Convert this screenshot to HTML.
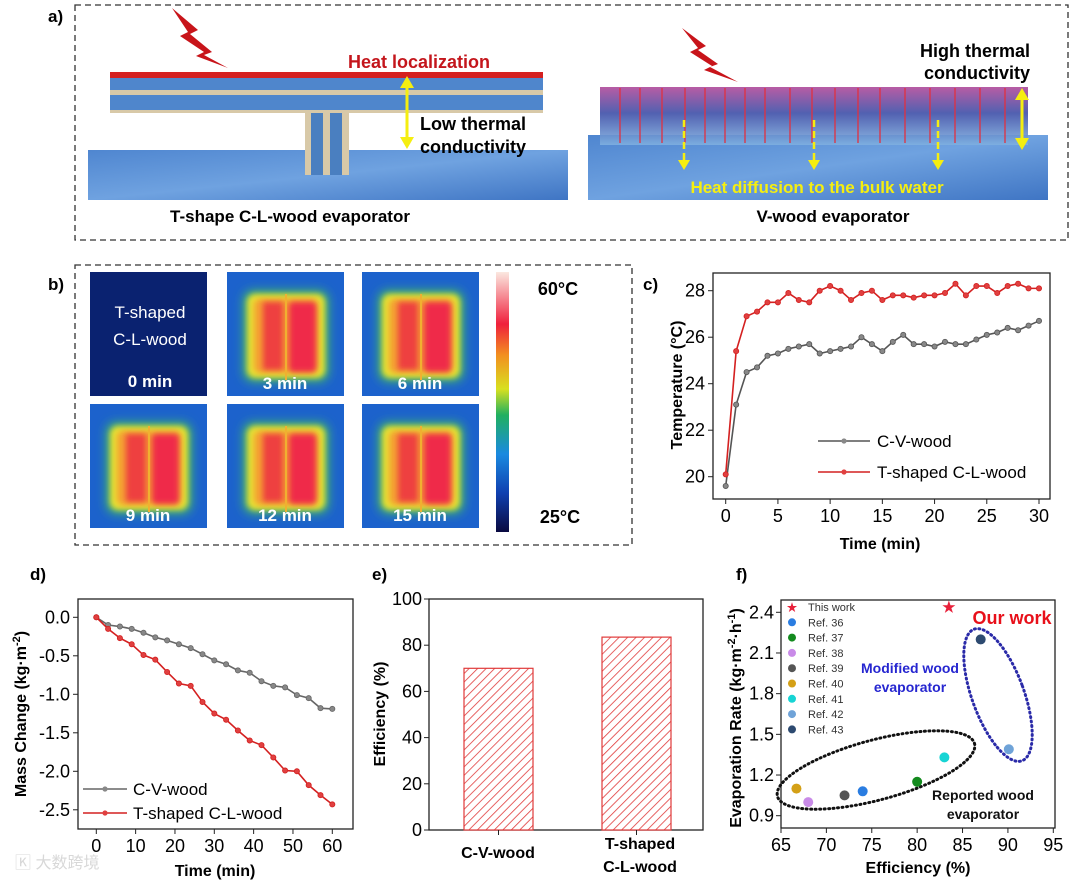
<!DOCTYPE html>
<html><head><meta charset="utf-8"><style>
body{margin:0;background:#fff;}
svg{display:block;font-family:"Liberation Sans","Noto Sans CJK SC",sans-serif;}
</style></head><body>
<svg id="fig" width="1080" height="883" viewBox="0 0 1080 883" xmlns="http://www.w3.org/2000/svg">
<defs>
<linearGradient id="water" x1="0" y1="0" x2="1" y2="1"><stop offset="0" stop-color="#4f86d0"/><stop offset="0.5" stop-color="#6fa2e0"/><stop offset="1" stop-color="#3f75c4"/></linearGradient>
<linearGradient id="vwood" x1="0" y1="0" x2="0" y2="1"><stop offset="0" stop-color="#b04a9a"/><stop offset="0.45" stop-color="#3e4fa8"/><stop offset="1" stop-color="#7fb0e0"/></linearGradient>
<linearGradient id="cbar" x1="0" y1="1" x2="0" y2="0"><stop offset="0" stop-color="#0a0a40"/><stop offset="0.15" stop-color="#1040b0"/><stop offset="0.3" stop-color="#1a8ae0"/><stop offset="0.45" stop-color="#20b060"/><stop offset="0.55" stop-color="#d8e020"/><stop offset="0.68" stop-color="#f29020"/><stop offset="0.8" stop-color="#f0203c"/><stop offset="1" stop-color="#fbe8e0"/></linearGradient>
<filter id="blur5" x="-30%" y="-30%" width="160%" height="160%"><feGaussianBlur stdDeviation="5"/></filter>
<filter id="blur3" x="-30%" y="-30%" width="160%" height="160%"><feGaussianBlur stdDeviation="3"/></filter>
<pattern id="hatch" width="6" height="6" patternUnits="userSpaceOnUse" patternTransform="rotate(45)"><rect width="6" height="6" fill="#fff"/><line x1="0" y1="0" x2="0" y2="6" stroke="#e03a3a" stroke-width="1.6"/></pattern>
</defs>

<!-- Panel a -->
<g>
<text x="48" y="22" font-size="17" font-weight="bold">a)</text>
<rect x="75" y="5" width="993" height="235" fill="none" stroke="#333" stroke-width="1.3" stroke-dasharray="6,4"/>
<rect x="88" y="150" width="480" height="50" fill="url(#water)"/>
<rect x="305" y="110" width="44" height="65" fill="#d8c9a8"/>
<rect x="311" y="110" width="12" height="65" fill="#4a7fc0"/><rect x="330" y="110" width="12" height="65" fill="#4a7fc0"/>
<rect x="110" y="75" width="433" height="38" fill="#d8c9a8"/>
<rect x="110" y="78" width="433" height="12" fill="#4f86cc"/><rect x="110" y="95" width="433" height="15" fill="#4f86cc"/>
<rect x="110" y="72" width="433" height="6" fill="#d42020"/>
<text x="348" y="68" font-size="18" font-weight="bold" fill="#c4161c">Heat localization</text>
<line x1="407" y1="82" x2="407" y2="143" stroke="#f5ee10" stroke-width="3"/>
<polygon points="400,88 407,76 414,88" fill="#f5ee10"/><polygon points="400,137 407,149 414,137" fill="#f5ee10"/>
<text x="420" y="130" font-size="18" font-weight="bold">Low thermal</text>
<text x="420" y="153" font-size="18" font-weight="bold">conductivity</text>
<polygon points="172,8 198,30 190,34 212,52 204,55 228,68 196,56 204,52 180,36 188,32" fill="#c8141a"/>
<text x="290" y="222" font-size="17" font-weight="bold" text-anchor="middle">T-shape C-L-wood evaporator</text>

<rect x="588" y="135" width="460" height="65" fill="url(#water)"/>
<rect x="600" y="87" width="428" height="58" fill="url(#vwood)" opacity="0.9"/>
<g stroke="#e03040" stroke-width="1.3">
<line x1="620" y1="88" x2="620" y2="143"/><line x1="640" y1="88" x2="640" y2="143"/><line x1="662" y1="88" x2="662" y2="143"/><line x1="685" y1="88" x2="685" y2="143"/><line x1="705" y1="88" x2="705" y2="143"/><line x1="725" y1="88" x2="725" y2="143"/><line x1="745" y1="88" x2="745" y2="143"/><line x1="765" y1="88" x2="765" y2="143"/><line x1="790" y1="88" x2="790" y2="143"/><line x1="812" y1="88" x2="812" y2="143"/><line x1="835" y1="88" x2="835" y2="143"/><line x1="858" y1="88" x2="858" y2="143"/><line x1="880" y1="88" x2="880" y2="143"/><line x1="905" y1="88" x2="905" y2="143"/><line x1="930" y1="88" x2="930" y2="143"/><line x1="955" y1="88" x2="955" y2="143"/><line x1="980" y1="88" x2="980" y2="143"/><line x1="1005" y1="88" x2="1005" y2="143"/>
</g>
<g stroke="#f5ee10" stroke-width="2.5" stroke-dasharray="7,4">
<line x1="684" y1="120" x2="684" y2="162"/><line x1="814" y1="120" x2="814" y2="162"/><line x1="938" y1="120" x2="938" y2="162"/></g>
<polygon points="678,160 684,170 690,160" fill="#f5ee10"/><polygon points="808,160 814,170 820,160" fill="#f5ee10"/><polygon points="932,160 938,170 944,160" fill="#f5ee10"/>
<text x="817" y="193" font-size="17" font-weight="bold" fill="#f5ee10" text-anchor="middle">Heat diffusion to the bulk water</text>
<line x1="1022" y1="96" x2="1022" y2="142" stroke="#f5ee10" stroke-width="3"/>
<polygon points="1015,100 1022,88 1029,100" fill="#f5ee10"/><polygon points="1015,138 1022,150 1029,138" fill="#f5ee10"/>
<text x="1030" y="57" font-size="18" font-weight="bold" text-anchor="end">High thermal</text>
<text x="1030" y="79" font-size="18" font-weight="bold" text-anchor="end">conductivity</text>
<polygon points="682,28 706,46 698,50 718,64 710,67 738,82 704,70 712,66 690,52 698,48" fill="#c8141a"/>
<text x="833" y="222" font-size="17" font-weight="bold" text-anchor="middle">V-wood evaporator</text>
</g>

<!-- Panel b -->
<g>
<text x="48" y="290" font-size="17" font-weight="bold">b)</text>
<rect x="75" y="265" width="557" height="280" fill="none" stroke="#333" stroke-width="1.3" stroke-dasharray="6,4"/>
<rect x="90" y="272" width="117" height="124" fill="#0a2270"/>
<text x="150" y="318" font-size="17" fill="#fff" text-anchor="middle">T-shaped</text>
<text x="150" y="345" font-size="17" fill="#fff" text-anchor="middle">C-L-wood</text>
<text x="150" y="387" font-size="17" font-weight="bold" fill="#fff" text-anchor="middle">0 min</text>
<g id="tiles"></g>
<rect x="496" y="272" width="13" height="260" fill="url(#cbar)"/>
<text x="558" y="295" font-size="18" font-weight="bold" text-anchor="middle">60°C</text>
<text x="560" y="523" font-size="18" font-weight="bold" text-anchor="middle">25°C</text>
</g>

<!-- Panel labels -->
<text x="643" y="290" font-size="17" font-weight="bold">c)</text>
<text x="30" y="580" font-size="17" font-weight="bold">d)</text>
<text x="372" y="580" font-size="17" font-weight="bold">e)</text>
<text x="736" y="580" font-size="17" font-weight="bold">f)</text>

<g id="pc"></g>
<g id="pd"></g>
<g id="pe"></g>
<g id="pf"></g>

<text x="15" y="868" font-size="16" fill="#d8d8d8">🄺 大数跨境</text>
</svg>
<script>
const NS='http://www.w3.org/2000/svg';
// ---- data ----
const timeC=[0,1,2,3,4,5,6,7,8,9,10,11,12,13,14,15,16,17,18,19,20,21,22,23,24,25,26,27,28,29,30];
const tempCV=[19.6,23.1,24.5,24.7,25.2,25.3,25.5,25.6,25.7,25.3,25.4,25.5,25.6,26.0,25.7,25.4,25.8,26.1,25.7,25.7,25.6,25.8,25.7,25.7,25.9,26.1,26.2,26.4,26.3,26.5,26.7];
const tempTL=[20.1,25.4,26.9,27.1,27.5,27.5,27.9,27.6,27.5,28.0,28.2,28.0,27.6,27.9,28.0,27.6,27.8,27.8,27.7,27.8,27.8,27.9,28.3,27.8,28.2,28.2,27.9,28.2,28.3,28.1,28.1];
const cXTicks=[0,5,10,15,20,25,30];
const cYTicks=[20,22,24,26,28];
const timeD=[0,3,6,9,12,15,18,21,24,27,30,33,36,39,42,45,48,51,54,57,60];
const massCV=[0,-0.10,-0.12,-0.15,-0.20,-0.26,-0.30,-0.35,-0.40,-0.48,-0.56,-0.61,-0.69,-0.72,-0.83,-0.89,-0.91,-1.01,-1.05,-1.18,-1.19];
const massTL=[0,-0.15,-0.27,-0.35,-0.49,-0.55,-0.71,-0.86,-0.89,-1.10,-1.25,-1.33,-1.47,-1.60,-1.66,-1.82,-1.99,-2.00,-2.18,-2.31,-2.43];
const dXTicks=[0,10,20,30,40,50,60];
const dYTicks=[0,-0.5,-1.0,-1.5,-2.0,-2.5];
const effCats=['C-V-wood','T-shaped C-L-wood'];
const effVals=[70,83.5];
const eYTicks=[0,20,40,60,80,100];
const refNames=['This work','Ref. 36','Ref. 37','Ref. 38','Ref. 39','Ref. 40','Ref. 41','Ref. 42','Ref. 43'];
const refEff=[83.5,74,80,68,72,66.7,83,90.1,87];
const refRate=[2.44,1.08,1.15,1.00,1.05,1.10,1.33,1.39,2.20];
const refColors=['#e8203a','#2a7de1','#138a1e','#c98be8','#555555','#d4a017','#17d4d4','#6fa3d8','#2d4a70'];
const fXTicks=[65,70,75,80,85,90,95];
const fYTicks=[0.9,1.2,1.5,1.8,2.1,2.4];
const tileTimes=['3 min','6 min','9 min','12 min','15 min'];

function el(tag,attrs,parent){const e=document.createElementNS(NS,tag);for(const k in attrs)e.setAttribute(k,attrs[k]);parent.appendChild(e);return e;}
function txt(parent,x,y,s,size,anchor,extra){const t=el('text',Object.assign({x:x,y:y,'font-size':size,'text-anchor':anchor||'middle'},extra||{}),parent);t.textContent=s;return t;}

// tiles
(function(){const g=document.getElementById('tiles');const pos=[[227,272],[362,272],[90,404],[227,404],[362,404]];
tileTimes.forEach((s,i)=>{const [x,y]=pos[i];
const r=el('rect',{x:x,y:y,width:117,height:124,fill:'#1c62cc'},g);


el('rect',{x:x+16,y:y+18,width:86,height:92,rx:10,fill:'#40b070',filter:'url(#blur5)'},g);
el('rect',{x:x+20,y:y+22,width:78,height:84,rx:8,fill:'#e8e030',filter:'url(#blur3)'},g);
el('rect',{x:x+27,y:y+27,width:64,height:74,rx:6,fill:'#f4a030',filter:'url(#blur3)'},g);
el('rect',{x:x+36,y:y+30,width:20,height:68,fill:'#ee4040',filter:'url(#blur3)'},g);
el('rect',{x:x+62,y:y+30,width:27,height:70,rx:4,fill:'#ef2a4a',filter:'url(#blur3)'},g);
el('line',{x1:x+59,y1:y+22,x2:x+59,y2:y+108,stroke:'#f0b030','stroke-width':2},g);
txt(g,x+58,y+117,s,17,'middle',{'font-weight':'bold',fill:'#fff'});});})();

function frame(g,L,R,T,B){el('rect',{x:L,y:T,width:R-L,height:B-T,fill:'none',stroke:'#222','stroke-width':1.3},g);}

// Panel c
(function(){const g=document.getElementById('pc');const L=713,R=1050,T=273,B=499;
const x=t=>725.7+t*(1039-725.7)/30, y=v=>476.7-(v-20)*23.25;
frame(g,L,R,T,B);
cXTicks.forEach(t=>{el('line',{x1:x(t),y1:B,x2:x(t),y2:B+5,stroke:'#222'},g);txt(g,x(t),B+23,t,18);});
cYTicks.forEach(v=>{el('line',{x1:L,y1:y(v),x2:L-5,y2:y(v),stroke:'#222'},g);txt(g,L-8,y(v)+6,v,18,'end');});
txt(g,880,549,'Time (min)',16,'middle',{'font-weight':'bold'});
txt(g,0,0,'Temperature (°C)',16,'middle',{'font-weight':'bold',transform:'translate(682,385) rotate(-90)'});
[[tempCV,'#555','#888','cv'],[tempTL,'#d42020','#e04040','tl']].forEach(([d,c,f,n])=>{
const pl=el('polyline',{points:timeC.map((t,i)=>x(t)+','+y(d[i])).join(' '),fill:'none',stroke:c,'stroke-width':1.6},g);


timeC.forEach((t,i)=>{const p=el('circle',{cx:x(t),cy:y(d[i]),r:2.6,fill:f,stroke:c,'stroke-width':0.8},g);

});});
el('line',{x1:818,y1:441,x2:870,y2:441,stroke:'#555','stroke-width':1.6},g);el('circle',{cx:844,cy:441,r:2.6,fill:'#888'},g);
txt(g,877,447,'C-V-wood',17,'start');
el('line',{x1:818,y1:472,x2:870,y2:472,stroke:'#d42020','stroke-width':1.6},g);el('circle',{cx:844,cy:472,r:2.6,fill:'#e04040'},g);
txt(g,877,478,'T-shaped C-L-wood',17,'start');})();

// Panel d
(function(){const g=document.getElementById('pd');const L=78,R=353,T=599,B=829;
const x=t=>96.3+t*(332.3-96.3)/60, y=v=>617.3-v*77;
frame(g,L,R,T,B);
dXTicks.forEach(t=>{el('line',{x1:x(t),y1:B,x2:x(t),y2:B+5,stroke:'#222'},g);txt(g,x(t),B+23,t,18);});
dYTicks.forEach(v=>{el('line',{x1:L,y1:y(v),x2:L-5,y2:y(v),stroke:'#222'},g);txt(g,L-8,y(v)+6,v.toFixed(1),18,'end');});
txt(g,215,876,'Time (min)',16,'middle',{'font-weight':'bold'});
const yl=el('text',{'font-size':16,'font-weight':'bold','text-anchor':'middle',transform:'translate(26,714) rotate(-90)'},g);
yl.innerHTML='Mass Change (kg·m<tspan baseline-shift="super" font-size="11">-2</tspan>)';
[[massCV,'#666','#888','cv'],[massTL,'#d42020','#e04040','tl']].forEach(([d,c,f,n])=>{
const pl=el('polyline',{points:timeD.map((t,i)=>x(t)+','+y(d[i])).join(' '),fill:'none',stroke:c,'stroke-width':1.6},g);


timeD.forEach((t,i)=>{const p=el('circle',{cx:x(t),cy:y(d[i]),r:2.6,fill:f,stroke:c,'stroke-width':0.8},g);

});});
el('line',{x1:83,y1:789,x2:127,y2:789,stroke:'#666','stroke-width':1.6},g);el('circle',{cx:105,cy:789,r:2.6,fill:'#888'},g);
txt(g,133,795,'C-V-wood',17,'start');
el('line',{x1:83,y1:813,x2:127,y2:813,stroke:'#d42020','stroke-width':1.6},g);el('circle',{cx:105,cy:813,r:2.6,fill:'#e04040'},g);
txt(g,133,819,'T-shaped C-L-wood',17,'start');})();

// Panel e
(function(){const g=document.getElementById('pe');const L=429,R=703,T=599,B=830;
const y=v=>830-v*2.31; const cx=[498.5,636.5];
frame(g,L,R,T,B);
eYTicks.forEach(v=>{el('line',{x1:L,y1:y(v),x2:L-5,y2:y(v),stroke:'#222'},g);txt(g,L-7,y(v)+6,v,18,'end');});
effCats.forEach((c,i)=>{const b=el('rect',{x:cx[i]-34.5,y:y(effVals[i]),width:69,height:B-y(effVals[i]),fill:'url(#hatch)',stroke:'#e03a3a','stroke-width':1.2},g);


el('line',{x1:cx[i],y1:B,x2:cx[i],y2:B+5,stroke:'#222'},g);});
txt(g,498,858,'C-V-wood',16,'middle',{'font-weight':'bold'});
txt(g,640,849,'T-shaped',16,'middle',{'font-weight':'bold'});
txt(g,640,872,'C-L-wood',16,'middle',{'font-weight':'bold'});
txt(g,0,0,'Efficiency (%)',16,'middle',{'font-weight':'bold',transform:'translate(385,714) rotate(-90)'});})();

// Panel f
(function(){const g=document.getElementById('pf');const L=781,R=1055,T=600,B=828;
const x=e=>781+(e-65)*(1053.3-781)/30, y=r=>815.7-(r-0.9)*(815.7-612.3)/1.5;
frame(g,L,R,T,B);
fXTicks.forEach(t=>{el('line',{x1:x(t),y1:B,x2:x(t),y2:B+5,stroke:'#222'},g);txt(g,x(t),B+23,t,18);});
fYTicks.forEach(v=>{el('line',{x1:L,y1:y(v),x2:L-5,y2:y(v),stroke:'#222'},g);txt(g,L-7,y(v)+6,v.toFixed(1),18,'end');});
txt(g,918,873,'Efficiency (%)',16,'middle',{'font-weight':'bold'});
const yl=el('text',{'font-size':16,'font-weight':'bold','text-anchor':'middle',transform:'translate(741,718) rotate(-90)'},g);
yl.innerHTML='Evaporation Rate (kg·m<tspan baseline-shift="super" font-size="11">-2</tspan>·h<tspan baseline-shift="super" font-size="11">-1</tspan>)';
el('ellipse',{cx:998,cy:695,rx:26,ry:70,transform:'rotate(-20 998 695)',fill:'none',stroke:'#2a2aa8','stroke-width':3,'stroke-dasharray':'1,3.5','stroke-linecap':'round'},g);
el('ellipse',{cx:876,cy:770,rx:102,ry:30,transform:'rotate(-15 876 770)',fill:'none',stroke:'#111','stroke-width':3,'stroke-dasharray':'1,3.5','stroke-linecap':'round'},g);
refNames.forEach((n,i)=>{
if(i===0){const s=txt(g,x(refEff[i]),y(refRate[i])+5,'★',14,'middle',{fill:refColors[i]});

}
else{const c=el('circle',{cx:x(refEff[i]),cy:y(refRate[i]),r:5,fill:refColors[i]},g);

}
const ly=607+i*15.3;
if(i===0)txt(g,792,ly+4,'★',11,'middle',{fill:refColors[0]});else el('circle',{cx:792,cy:ly,r:4,fill:refColors[i]},g);
txt(g,808,ly+4,n,11,'start',{fill:'#333'});});
txt(g,1012,624,'Our work',18,'middle',{'font-weight':'bold',fill:'#e8101a'});
txt(g,910,673,'Modified wood',14,'middle',{'font-weight':'bold',fill:'#2626d0'});
txt(g,910,692,'evaporator',14,'middle',{'font-weight':'bold',fill:'#2626d0'});
txt(g,983,800,'Reported wood',14,'middle',{'font-weight':'bold',fill:'#111'});
txt(g,983,819,'evaporator',14,'middle',{'font-weight':'bold',fill:'#111'});})();
</script>
</body></html>
